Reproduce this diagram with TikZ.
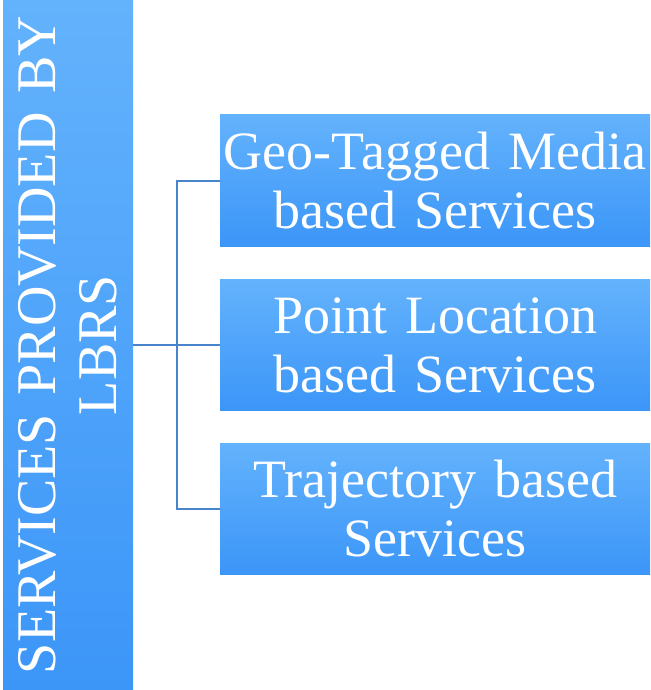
\documentclass[tikz,border=0pt]{standalone}
\usepackage{fontspec}
\setmainfont{Liberation Serif}
\definecolor{topblue}{RGB}{99, 178, 252}
\definecolor{bottomblue}{RGB}{60, 150, 248}
\definecolor{linkblue}{RGB}{72, 132, 204}
\usepackage{tikz}
\usetikzlibrary{positioning}

\begin{document}
\begin{tikzpicture}[x=1pt, y=-1pt,
  servicebox/.style={top color=topblue, bottom color=bottomblue, minimum width=430pt, minimum height=131pt, text width=430pt, inner sep=0pt, align=center, text=white, font=\fontsize{54}{59}\selectfont},
  link/.style={draw=linkblue, line width=2pt}]
  \useasboundingbox (0,0) rectangle (650,690);

  % Main category
  \node[rotate=90, top color=topblue, bottom color=bottomblue, minimum width=690pt, minimum height=130pt, text width=690pt, inner sep=0pt, align=center, text=white, font=\fontsize{56}{61}\selectfont] (lbrs) at (68,345) {SERVICES PROVIDED BY\\LBRS};

  % Services
  \node[servicebox] (geo) at (435,180.5) {Geo-Tagged Media\\based Services};
  \node[servicebox] (point) at (435,345) {Point Location\\based Services};
  \node[servicebox] (traj) at (435,508.5) {Trajectory based\\Services};

  % Connectors
  \coordinate (fork) at (177,345);
  \draw[link] (lbrs.south) -- (fork);
  \draw[link] (fork) -- (point.west);
  \draw[link] (fork) |- (geo.west);
  \draw[link] (fork) |- (traj.west);
\end{tikzpicture}
\end{document}
